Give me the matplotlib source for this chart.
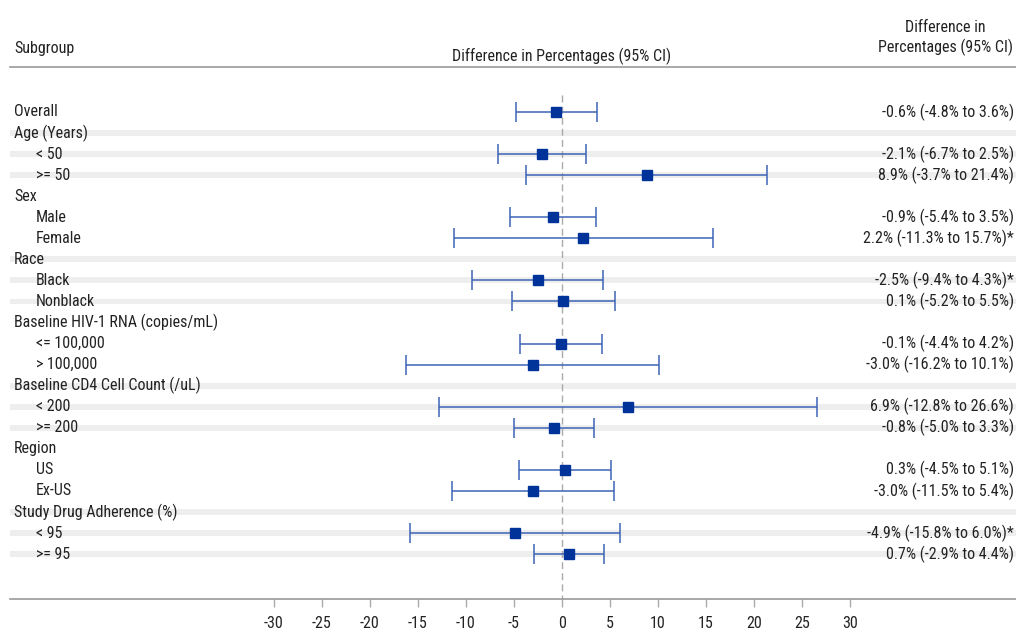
import matplotlib
matplotlib.use("Agg")
import matplotlib.pyplot as plt

plt.rcParams['font.family'] = ['Roboto Condensed', 'Liberation Sans', 'DejaVu Sans']

# ---- data ----
labels = ["Overall", "Age (Years)", "< 50", ">= 50", "Sex", "Male", "Female", "Race", "Black", "Nonblack",
          "Baseline HIV-1 RNA (copies/mL)", "<= 100,000", "> 100,000", "Baseline CD4 Cell Count (/uL)",
          "< 200", ">= 200", "Region", "US", "Ex-US", "Study Drug Adherence (%)", "< 95", ">= 95"]
is_header = [True, True, False, False, True, False, False, True, False, False,
             True, False, False, True, False, False, True, False, False, True, False, False]
est = [-0.6, None, -2.1, 8.9, None, -0.9, 2.2, None, -2.5, 0.1,
       None, -0.1, -3.0, None, 6.9, -0.8, None, 0.3, -3.0, None, -4.9, 0.7]
lo = [-4.8, None, -6.7, -3.7, None, -5.4, -11.3, None, -9.4, -5.2,
      None, -4.4, -16.2, None, -12.8, -5.0, None, -4.5, -11.5, None, -15.8, -2.9]
hi = [3.6, None, 2.5, 21.4, None, 3.5, 15.7, None, 4.3, 5.5,
      None, 4.2, 10.1, None, 26.6, 3.3, None, 5.1, 5.4, None, 6.0, 4.4]
ci_text = ["-0.6% (-4.8% to 3.6%)", "", "-2.1% (-6.7% to 2.5%)", "8.9% (-3.7% to 21.4%)", "",
           "-0.9% (-5.4% to 3.5%)", "2.2% (-11.3% to 15.7%)*", "", "-2.5% (-9.4% to 4.3%)*",
           "0.1% (-5.2% to 5.5%)", "", "-0.1% (-4.4% to 4.2%)", "-3.0% (-16.2% to 10.1%)", "",
           "6.9% (-12.8% to 26.6%)", "-0.8% (-5.0% to 3.3%)", "", "0.3% (-4.5% to 5.1%)",
           "-3.0% (-11.5% to 5.4%)", "", "-4.9% (-15.8% to 6.0%)*", "0.7% (-2.9% to 4.4%)"]
shaded = [False, True, True, True, False, False, False, True, True, True,
          False, False, False, True, True, True, False, False, False, True, True, True]
xticks = [-30, -25, -20, -15, -10, -5, 0, 5, 10, 15, 20, 25, 30]

# ---- layout ----
W, H = 1016, 630
fig = plt.figure(figsize=(W / 100, H / 100), dpi=100)
top_px, bot_px = 67, 599
ax = fig.add_axes([0, (H - bot_px) / H, 1, (bot_px - top_px) / H])
zero_px, ppu = 562, 9.6
ax.set_xlim((0 - zero_px) / ppu, (W - zero_px) / ppu)
row0_px, rstep = 112, 21.05
ax.set_ylim((bot_px - row0_px) / rstep, (top_px - row0_px) / rstep)
for s in ax.spines.values():
    s.set_visible(False)

txtc = '#222222'
fs = 11.5
xl = 10 / W
band_h = 0.14
ytr = ax.get_yaxis_transform()
for i, lab in enumerate(labels):
    if shaded[i]:
        ax.axhspan(i - band_h, i + band_h, xmin=xl, xmax=1, color='#eeeeee', lw=0, zorder=0)
    ax.text(14 / W if is_header[i] else 36 / W, i, lab, transform=ytr,
            ha='left', va='center', fontsize=fs, color=txtc)
    if ci_text[i]:
        ax.text(1014 / W, i, ci_text[i], transform=ytr, ha='right', va='center',
                fontsize=fs, color=txtc)
    if est[i] is not None:
        ax.errorbar(est[i], i, xerr=[[est[i] - lo[i]], [hi[i] - est[i]]], fmt='none',
                    ecolor='#3f64b5', elinewidth=1.1, capsize=7.5, capthick=1.1, zorder=3)
        ax.plot(est[i], i, marker='s', ms=7, color='#003399', mec='#003399', ls='none', zorder=4)

# reference line
ylo, yhi = ax.get_ylim()
ax.plot([0, 0], [-0.8, ylo], ls=(0, (5, 3)), color='#aaaaaa', lw=1, zorder=2)

# top and bottom rules
ax.axhline(yhi, xmin=xl, xmax=1, color='#999999', lw=1.2, clip_on=False)
ax.axhline(ylo, xmin=xl, xmax=1, color='#999999', lw=1.2, clip_on=False)

ax.set_yticks([])
ax.set_xticks(xticks)
ax.set_xticklabels([str(v) for v in xticks])
ax.tick_params(axis='x', direction='out', length=5.5, width=1, color='#aaaaaa',
               labelsize=fs, labelcolor=txtc, pad=7)

# headers
fig.text(14 / W, 1 - 48 / H, "Subgroup", ha='left', va='center', fontsize=fs, color=txtc)
fig.text(zero_px / W, 1 - 56 / H, "Difference in Percentages (95% CI)", ha='center', va='center',
         fontsize=fs, color=txtc)
fig.text(945 / W, 1 - 38 / H, "Difference in\nPercentages (95% CI)", ha='center', va='center',
         fontsize=fs, color=txtc, linespacing=1.3)

fig.savefig("out.png", dpi=100)
